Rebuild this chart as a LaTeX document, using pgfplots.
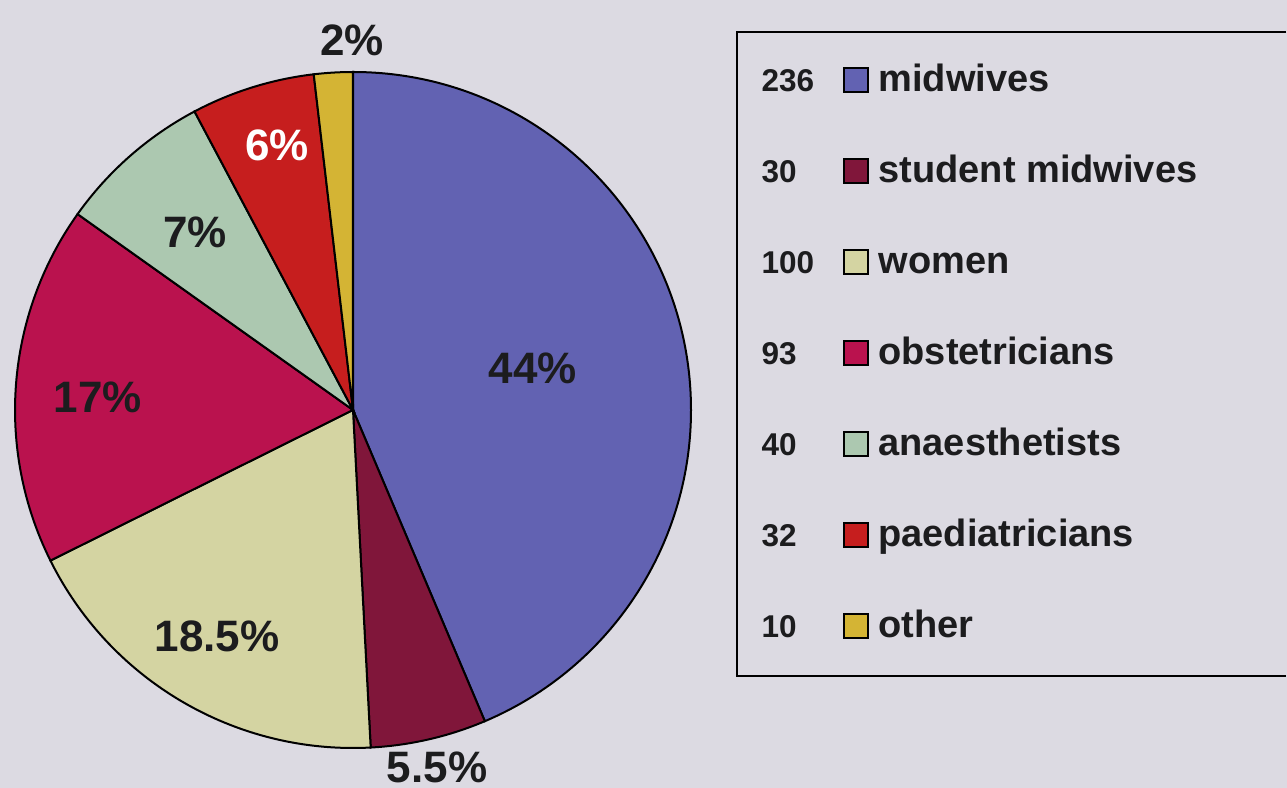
\documentclass[border=0pt]{standalone}
\usepackage{pgfplots}
\pgfplotsset{compat=1.18}
\usepackage{pgfplotstable}
\usepackage{fontspec}
\setmainfont{Liberation Sans}

\definecolor{bg}{RGB}{220,218,226}
\definecolor{txt}{RGB}{28,28,30}
\definecolor{cMid}{RGB}{98,98,178}
\definecolor{cStu}{RGB}{128,22,58}
\definecolor{cWom}{RGB}{212,212,162}
\definecolor{cObs}{RGB}{186,18,78}
\definecolor{cAna}{RGB}{172,200,176}
\definecolor{cPae}{RGB}{198,30,30}
\definecolor{cOth}{RGB}{212,180,52}

\newcommand\pctfont{\fontsize{17.6pt}{20pt}\selectfont\bfseries}
\newcommand\legfont{\fontsize{15.2pt}{18pt}\selectfont\bfseries}
\newcommand\numfont{\fontsize{12.6pt}{15pt}\selectfont\bfseries}

% counts, printed shares, label centre (px from top left), colours
\pgfplotstableread[col sep=comma]{
name,count,pct,lx,ly,col,tc
midwives,236,44,533,368,cMid,txt
student midwives,30,5.5,437,767,cStu,txt
women,100,18.5,217,636,cWom,txt
obstetricians,93,17,98,397,cObs,txt
anaesthetists,40,7,195,232,cAna,txt
paediatricians,32,6,277,145,cPae,white
other,10,2,352,40,cOth,txt
}\piedata

\begin{document}
\begin{tikzpicture}
\begin{axis}[
  x=0.4pt, y=0.4pt,
  xmin=0, xmax=1287, ymin=0, ymax=788,
  hide axis, clip=false]
  \coordinate (ll) at (axis cs:0,0);
  \coordinate (ur) at (axis cs:1287,788);
  \fill[bg] (axis cs:0,0) rectangle (axis cs:1287,788);

  \def\total{0}
  \pgfplotsforeachungrouped \i in {0,...,6}{
    \pgfplotstablegetelem{\i}{count}\of\piedata
    \pgfmathsetmacro\total{\total+\pgfplotsretval}}

  \def\a{90}
  \pgfplotsforeachungrouped \i in {0,...,6}{
    \pgfplotstablegetelem{\i}{count}\of\piedata \let\cnt\pgfplotsretval
    \pgfplotstablegetelem{\i}{col}\of\piedata \let\col\pgfplotsretval
    \pgfplotstablegetelem{\i}{name}\of\piedata \let\nm\pgfplotsretval
    \pgfplotstablegetelem{\i}{pct}\of\piedata \let\pc\pgfplotsretval
    \pgfplotstablegetelem{\i}{lx}\of\piedata \let\lx\pgfplotsretval
    \pgfplotstablegetelem{\i}{ly}\of\piedata \let\ly\pgfplotsretval
    \pgfplotstablegetelem{\i}{tc}\of\piedata \let\tc\pgfplotsretval
    \pgfmathsetmacro\b{\a-360*(\cnt/\total)}
    \pgfmathsetmacro\ly{788-\ly}
    \pgfmathsetmacro\ry{788-(92+91*\i)}
    \pgfmathsetmacro\rt{\ry+24}
    \edef\temp{%
      \noexpand\filldraw[fill=\col,draw=black,line width=0.8pt]
        (axis cs:353,378) -- ++(\a:135.2pt)
        arc[start angle=\a,end angle=\b,radius=135.2pt] -- cycle;
      \noexpand\node[inner sep=0pt,text=\tc,font=\noexpand\pctfont]
        at (axis cs:\lx,\ly) {\pc\noexpand\%};
      \noexpand\node[inner sep=0pt,anchor=base west,text=txt,font=\noexpand\numfont]
        at (axis cs:761,\ry) {\cnt};
      \noexpand\filldraw[fill=\col,draw=black,line width=0.8pt]
        (axis cs:844,\ry) rectangle (axis cs:868,\rt);
      \noexpand\node[inner sep=0pt,anchor=base west,text=txt,font=\noexpand\legfont]
        at (axis cs:878,\ry) {\nm};
    }%
    \temp
    \let\a\b
  }

  \draw[line width=0.8pt] (axis cs:1286,756) -- (axis cs:737,756)
    -- (axis cs:737,112) -- (axis cs:1286,112);
\end{axis}
\pgfresetboundingbox
\path[use as bounding box] (ll) rectangle (ur);
\end{tikzpicture}
\end{document}
